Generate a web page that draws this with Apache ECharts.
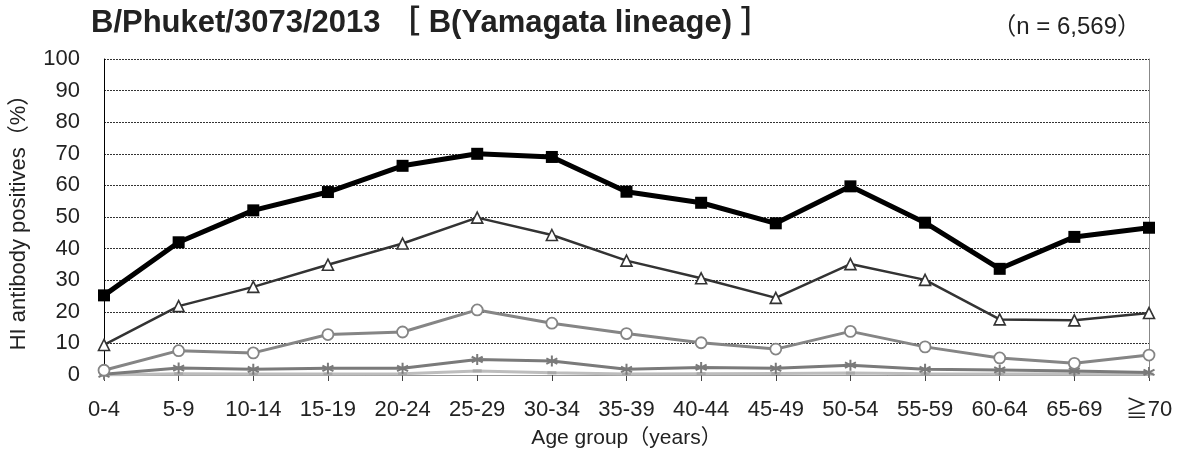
<!DOCTYPE html>
<html>
<head>
<meta charset="utf-8">
<script src="https://cdn.jsdelivr.net/npm/echarts@6/dist/echarts.min.js"></script>
<style>
  html, body { margin: 0; padding: 0; background: #fff; }
  #chart { width: 1178px; height: 454px; }
</style>
</head>
<body>
<div id="chart"></div>
<script>
const FONT = "'Liberation Sans', Arial, 'Noto Sans CJK JP', sans-serif";

const ageGroups = ["0-4", "5-9", "10-14", "15-19", "20-24", "25-29", "30-34", "35-39",
  "40-44", "45-49", "50-54", "55-59", "60-64", "65-69", "≧70"];

// HI antibody positive rates (%) by titer threshold
const squareVals = [25.2, 42.0, 52.1, 57.9, 66.2, 70.0, 69.0, 58.0, 54.5, 48.0, 59.7, 48.2, 33.6, 43.7, 46.6];
const triangleVals = [9.5, 21.8, 27.9, 34.9, 41.6, 49.8, 44.3, 36.2, 30.6, 24.4, 35.1, 30.1, 17.6, 17.3, 19.6];
const circleVals = [1.5, 7.7, 7.0, 12.8, 13.6, 20.6, 16.4, 13.1, 10.2, 8.2, 13.8, 8.9, 5.4, 3.7, 6.3];
const starVals = [0.2, 2.2, 1.8, 2.1, 2.1, 4.9, 4.4, 1.8, 2.4, 2.1, 3.1, 1.8, 1.6, 1.3, 0.8];
const dashVals = [0.0, 0.4, 0.3, 0.3, 0.4, 1.3, 0.7, 0.3, 0.4, 0.5, 0.6, 0.4, 0.3, 0.4, 0.3];

const starPath = "path://M5,0 L5,10 M0.7,2.5 L9.3,7.5 M0.7,7.5 L9.3,2.5";

const chart = echarts.init(document.getElementById("chart"));
chart.setOption({
  animation: false,
  textStyle: { fontFamily: FONT },
  title: [
    {
      text: "B/Phuket/3073/2013 ［ B(Yamagata lineage) ］",
      left: 86, top: 3,
      textStyle: { fontFamily: FONT, fontSize: 31, fontWeight: "bold", color: "#222" }
    },
    {
      text: "（n = 6,569）",
      right: 32, top: 10,
      textStyle: { fontFamily: FONT, fontSize: 24, fontWeight: "normal", color: "#222" }
    }
  ],
  grid: { left: 103, right: 29, top: 59, bottom: 77, containLabel: false },
  xAxis: {
    type: "category",
    data: ageGroups,
    boundaryGap: false,
    name: "Age group（years）",
    nameLocation: "middle",
    nameGap: 53,
    nameTextStyle: { fontFamily: FONT, fontSize: 21, color: "#222" },
    axisLine: { show: true, lineStyle: { color: "#999", width: 1 } },
    axisTick: { show: true, alignWithLabel: true, length: 6, lineStyle: { color: "#444" } },
    axisLabel: { fontFamily: FONT, fontSize: 22, color: "#222", margin: 24, interval: 0 },
    splitLine: { show: false }
  },
  yAxis: [
    {
      type: "value",
      min: 0, max: 100, interval: 10,
      name: "HI antibody positives（%）",
      nameLocation: "middle",
      nameGap: 74,
      nameRotate: 90,
      nameTextStyle: { fontFamily: FONT, fontSize: 22, color: "#222" },
      axisLine: { show: true, lineStyle: { color: "#000", width: 1 } },
      axisTick: { show: false },
      axisLabel: { fontFamily: FONT, fontSize: 22, color: "#222", margin: 24 },
      splitLine: { show: true, lineStyle: { color: "#333", type: [2, 1], width: 1 } }
    },
    {
      type: "value",
      min: 0, max: 100, interval: 10,
      position: "right",
      axisLine: { show: true, lineStyle: { color: "#888", width: 1 } },
      axisTick: { show: false },
      axisLabel: { show: false },
      splitLine: { show: false }
    }
  ],
  series: [
    {
      type: "line", data: dashVals, z: 2,
      symbol: "rect", symbolSize: [9, 3],
      lineStyle: { color: "#bdbdbd", width: 3 },
      itemStyle: { color: "#a8a8a8" }
    },
    {
      type: "line", data: starVals, z: 3,
      symbol: starPath, symbolSize: 11,
      lineStyle: { color: "#7a7a7a", width: 3 },
      itemStyle: { color: "#7a7a7a", borderColor: "#7a7a7a", borderWidth: 2 }
    },
    {
      type: "line", data: circleVals, z: 4,
      symbol: "circle", symbolSize: 11,
      lineStyle: { color: "#858585", width: 3 },
      itemStyle: { color: "#fff", borderColor: "#858585", borderWidth: 1.8 }
    },
    {
      type: "line", data: triangleVals, z: 5,
      symbol: "triangle", symbolSize: 11,
      lineStyle: { color: "#333", width: 2.5 },
      itemStyle: { color: "#fff", borderColor: "#333", borderWidth: 1.6 }
    },
    {
      type: "line", data: squareVals, z: 6,
      symbol: "rect", symbolSize: 12,
      lineStyle: { color: "#000", width: 5 },
      itemStyle: { color: "#000" }
    }
  ]
});
</script>
</body>
</html>
